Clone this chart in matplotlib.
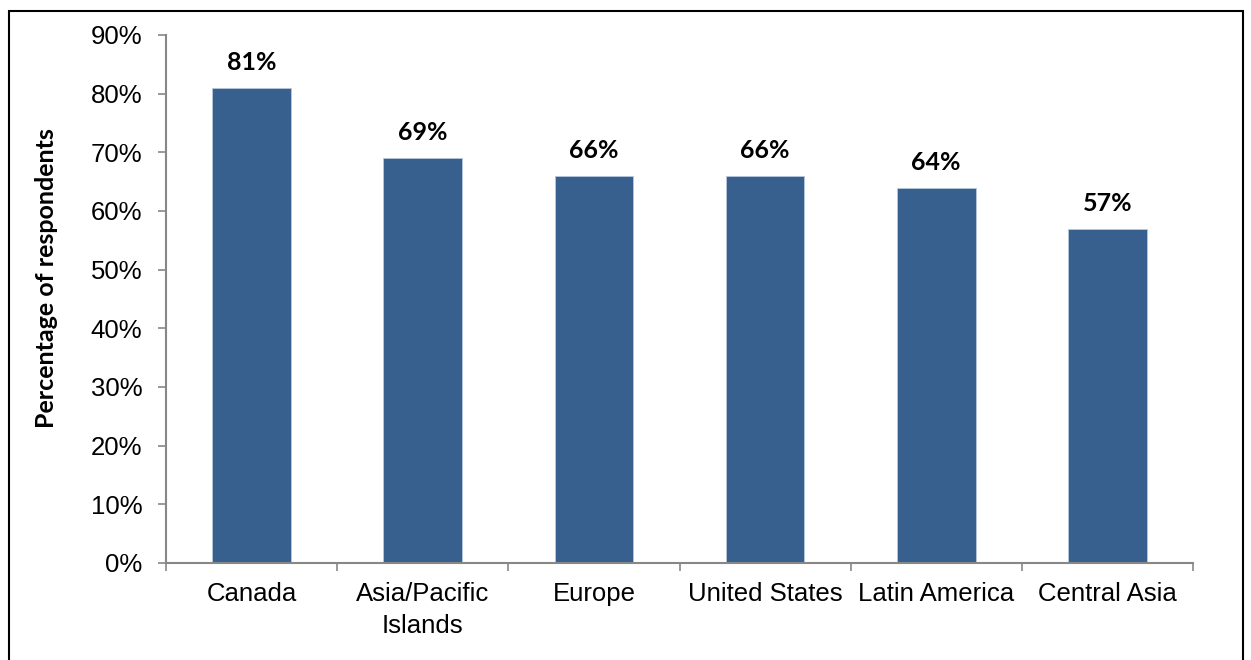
import matplotlib.pyplot as plt
import numpy as np
from matplotlib.patches import Rectangle

regions = ["Canada", "Asia/Pacific\nIslands", "Europe", "United States", "Latin America", "Central Asia"]
percentages = [81, 69, 66, 66, 64, 57]
bar_labels = ["81%", "69%", "66%", "66%", "64%", "57%"]
y_ticks = [0, 10, 20, 30, 40, 50, 60, 70, 80, 90]

fig = plt.figure(figsize=(12.51, 6.6), dpi=100)
ax = fig.add_axes([166 / 1251, (660 - 563) / 660, (1193 - 166) / 1251, (563 - 35) / 660])

x = np.arange(len(regions))
rects = ax.bar(x, percentages, 0.46, color="#37608f", edgecolor="#b8c8dc", linewidth=0.6)
ax.bar_label(rects, labels=bar_labels, padding=10, fontsize=18, fontweight="bold",
             family=["Lato", "DejaVu Sans"], color="black")

ax.set_xlim(-0.5, len(regions) - 0.5)
ax.set_ylim(0, 90)
ax.set_yticks(y_ticks, [f"{t}%" for t in y_ticks], fontsize=18.5, family="Liberation Sans")
ax.set_xticks(x, regions, fontsize=18.5, family="Liberation Sans", linespacing=1.4)
ax.tick_params(axis="x", length=0, pad=14)
# boundary ticks between categories
ax.set_xticks(np.arange(len(regions) + 1) - 0.5, minor=True)
ax.tick_params(axis="x", which="minor", length=6, width=1.2, color="#878787", direction="out")
ax.tick_params(axis="y", length=6, width=1.2, color="#878787", pad=11)

for side in ["top", "right"]:
    ax.spines[side].set_visible(False)
for side in ["left", "bottom"]:
    ax.spines[side].set_color("#878787")
    ax.spines[side].set_linewidth(1.5)

fig.text(47 / 1251, (660 - 278) / 660, "Percentage of respondents", rotation=90, ha="center", va="center",
         fontsize=18, fontweight="bold", family=["Lato", "DejaVu Sans"])

fig.patches.append(Rectangle((9 / 1251, -0.05), (1243 - 9) / 1251, (660 - 11) / 660 + 0.05,
                             transform=fig.transFigure, fill=False, edgecolor="black", linewidth=1.5))

plt.savefig("out.png", dpi=100)
